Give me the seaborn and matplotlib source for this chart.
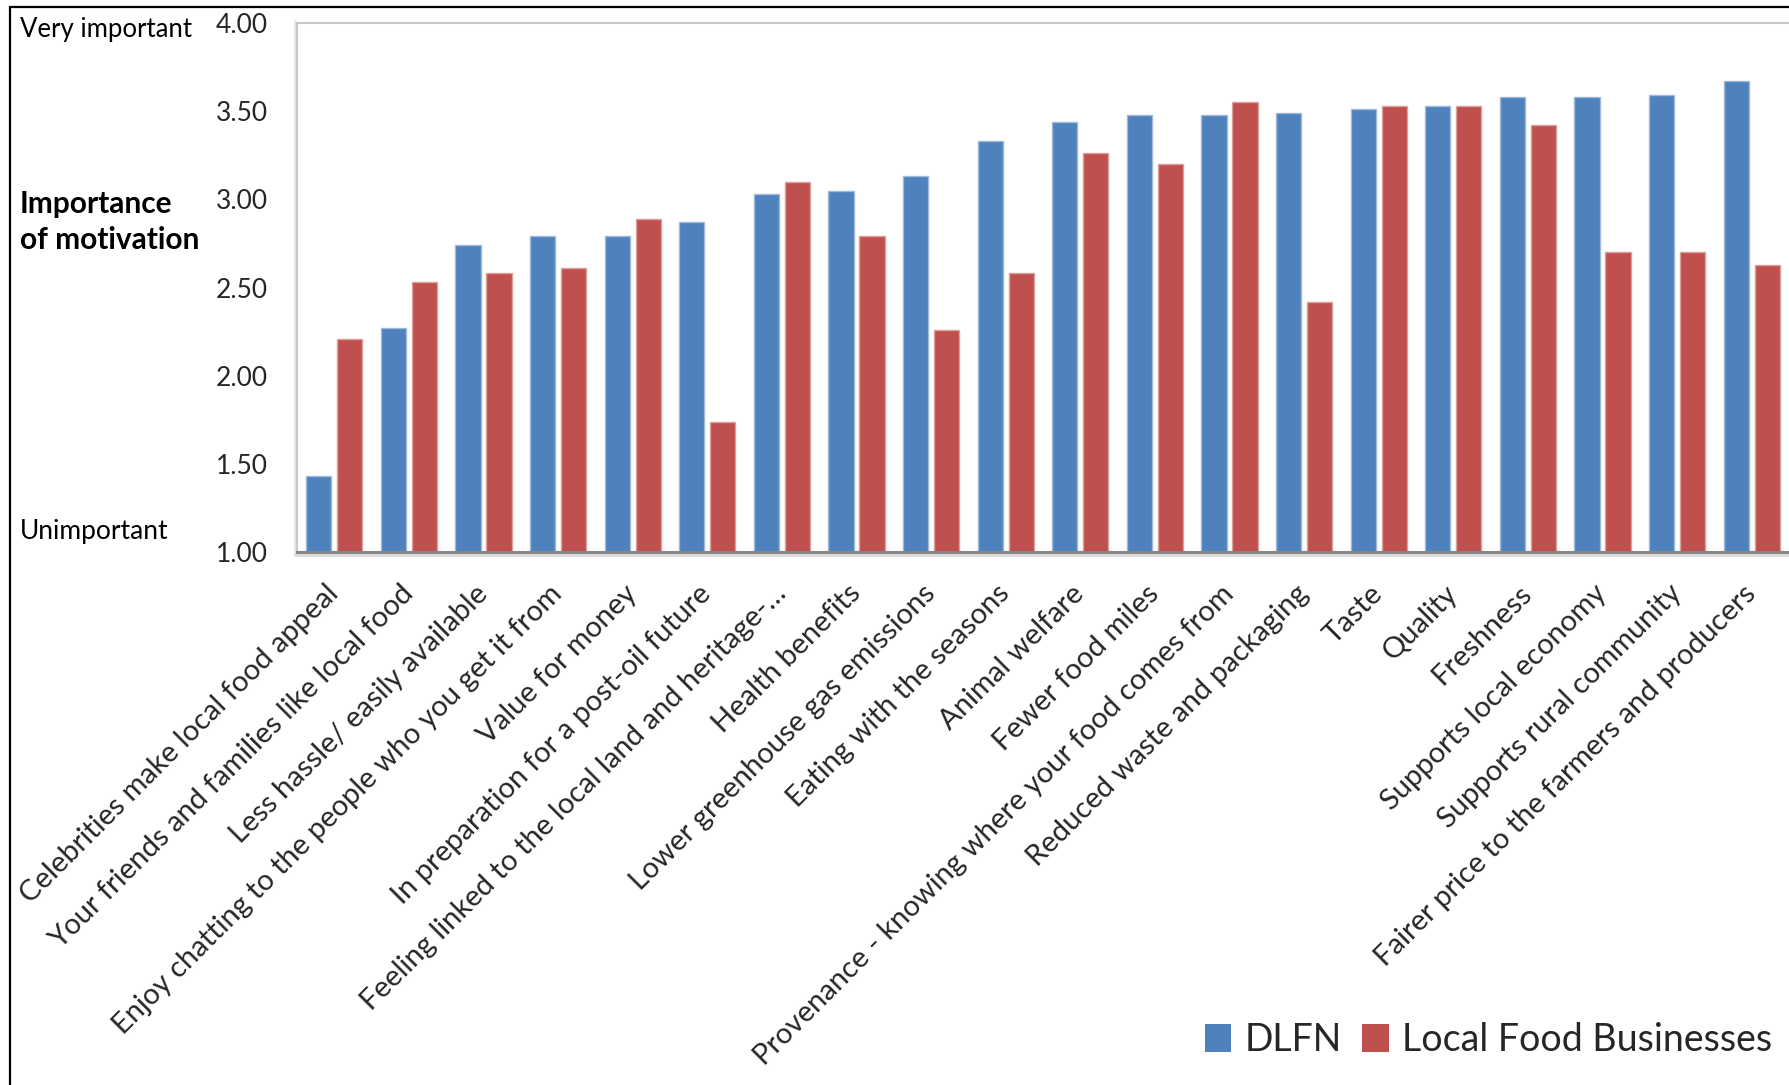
import matplotlib
matplotlib.use("Agg")
import numpy as np
import pandas as pd
import matplotlib.pyplot as plt
from matplotlib.lines import Line2D
from matplotlib.patches import Patch
import seaborn as sns

# Survey motivations and mean importance scores (1 = unimportant, 4 = very important)
motivations = [
    "Celebrities make local food appeal",
    "Your friends and families like local food",
    "Less hassle/ easily available",
    "Enjoy chatting to the people who you get it from",
    "Value for money",
    "In preparation for a post-oil future",
    "Feeling linked to the local land and heritage-\u2026",
    "Health benefits",
    "Lower greenhouse gas emissions",
    "Eating with the seasons",
    "Animal welfare",
    "Fewer food miles",
    "Provenance - knowing where your food comes from",
    "Reduced waste and packaging",
    "Taste",
    "Quality",
    "Freshness",
    "Supports local economy",
    "Supports rural community",
    "Fairer price to the farmers and producers",
]
dlfn = [1.43, 2.27, 2.74, 2.79, 2.79, 2.87, 3.03, 3.05, 3.13, 3.33,
        3.44, 3.48, 3.48, 3.49, 3.51, 3.53, 3.58, 3.58, 3.59, 3.67]
local_food_businesses = [2.21, 2.53, 2.58, 2.61, 2.89, 1.74, 3.10, 2.79, 2.26, 2.58,
                         3.26, 3.20, 3.55, 2.42, 3.53, 3.53, 3.42, 2.70, 2.70, 2.63]
series_names = ["DLFN", "Local Food Businesses"]
series_colors = ["#4F81BD", "#C0504D"]
y_ticks = [1.00, 1.50, 2.00, 2.50, 3.00, 3.50, 4.00]

df = pd.DataFrame({
    "Motivation": motivations * 2,
    "Score": dlfn + local_food_businesses,
    "Group": [series_names[0]] * len(motivations) + [series_names[1]] * len(motivations),
})

sns.set_theme(style="white")
plt.rcParams["font.family"] = ["Lato", "DejaVu Sans"]

W, H = 1789, 1085
fig = plt.figure(figsize=(W / 100, H / 100), dpi=100)
ax_left, ax_bottom, ax_top = 297, 552, 23
ax = fig.add_axes([ax_left / W, 1 - ax_bottom / H, 1 - ax_left / W, (ax_bottom - ax_top) / H])

sns.barplot(
    data=df, x="Motivation", y="Score", hue="Group",
    order=motivations, hue_order=series_names, palette=series_colors,
    saturation=1, width=0.83, gap=0.19, errorbar=None, legend=False, ax=ax,
    linewidth=1.0,
)
# thin lighter outline on each bar
for p in ax.patches:
    r, g, b, a = p.get_facecolor()
    p.set_edgecolor((0.55 * r + 0.45, 0.55 * g + 0.45, 0.55 * b + 0.45, 1))

ax.set_ylim(1, 4)
ax.set_xlim(-0.5, len(motivations) - 0.5)
ax.set_xlabel("")
ax.set_ylabel("")

ax.set_yticks(y_ticks)
ax.set_yticklabels([f"{v:.2f}" for v in y_ticks], fontsize=19)
ax.tick_params(axis="y", length=0, pad=21)

ax.set_xticks(range(len(motivations)))
ax.set_xticklabels(motivations, fontsize=21, rotation=45, ha="right", va="center",
                   rotation_mode="anchor")
ax.tick_params(axis="x", length=0, pad=27)

ax.spines["right"].set_visible(False)
ax.spines["bottom"].set_color("#868686")
ax.spines["bottom"].set_linewidth(2.2)
ax.spines["left"].set_color("#c8c8c8")
ax.spines["left"].set_linewidth(1.5)
ax.spines["top"].set_color("#c8c8c8")
ax.spines["top"].set_linewidth(1.5)

# soft shadow along plot-area frame
tf = fig.transFigure
shadow = "#e6e6e6"
fig.add_artist(Line2D([(ax_left - 2) / W, (ax_left - 2) / W], [1 - (ax_bottom + 2) / H, 1 - (ax_top - 2) / H],
                      color=shadow, lw=2, transform=tf, zorder=0))
fig.add_artist(Line2D([(ax_left - 2) / W, 1], [1 - (ax_top + 2) / H, 1 - (ax_top + 2) / H],
                      color=shadow, lw=2, transform=tf, zorder=0))
fig.add_artist(Line2D([(ax_left - 2) / W, 1], [1 - (ax_bottom + 3) / H, 1 - (ax_bottom + 3) / H],
                      color="#dcdcdc", lw=2, transform=tf, zorder=0))

# outer chart border
fig.add_artist(Line2D([10 / W, 10 / W], [0, 1 - 7 / H], color="black", lw=1.6, transform=tf))
fig.add_artist(Line2D([10 / W, 1], [1 - 7 / H, 1 - 7 / H], color="black", lw=1.6, transform=tf))

# y-axis annotations
fig.text(20 / W, 1 - 30 / H, "Very important", ha="left", va="center", fontsize=18.5, color="black")
fig.text(20 / W, 1 - 222 / H, "Importance\nof motivation", ha="left", va="center",
         fontsize=21.5, fontweight="bold", linespacing=1.35, color="black")
fig.text(20 / W, 1 - 531 / H, "Unimportant", ha="left", va="center", fontsize=19, color="black")

handles = [Patch(facecolor=c, edgecolor="none", label=n) for c, n in zip(series_colors, series_names)]
fig.legend(handles=handles, loc="center left", bbox_to_anchor=(1205 / W, 1 - 1040 / H),
           ncol=2, frameon=False, fontsize=27, handlelength=0.7, handleheight=0.8,
           handletextpad=0.35, columnspacing=0.55, borderaxespad=0, borderpad=0)

fig.savefig("out.png", dpi=100)
